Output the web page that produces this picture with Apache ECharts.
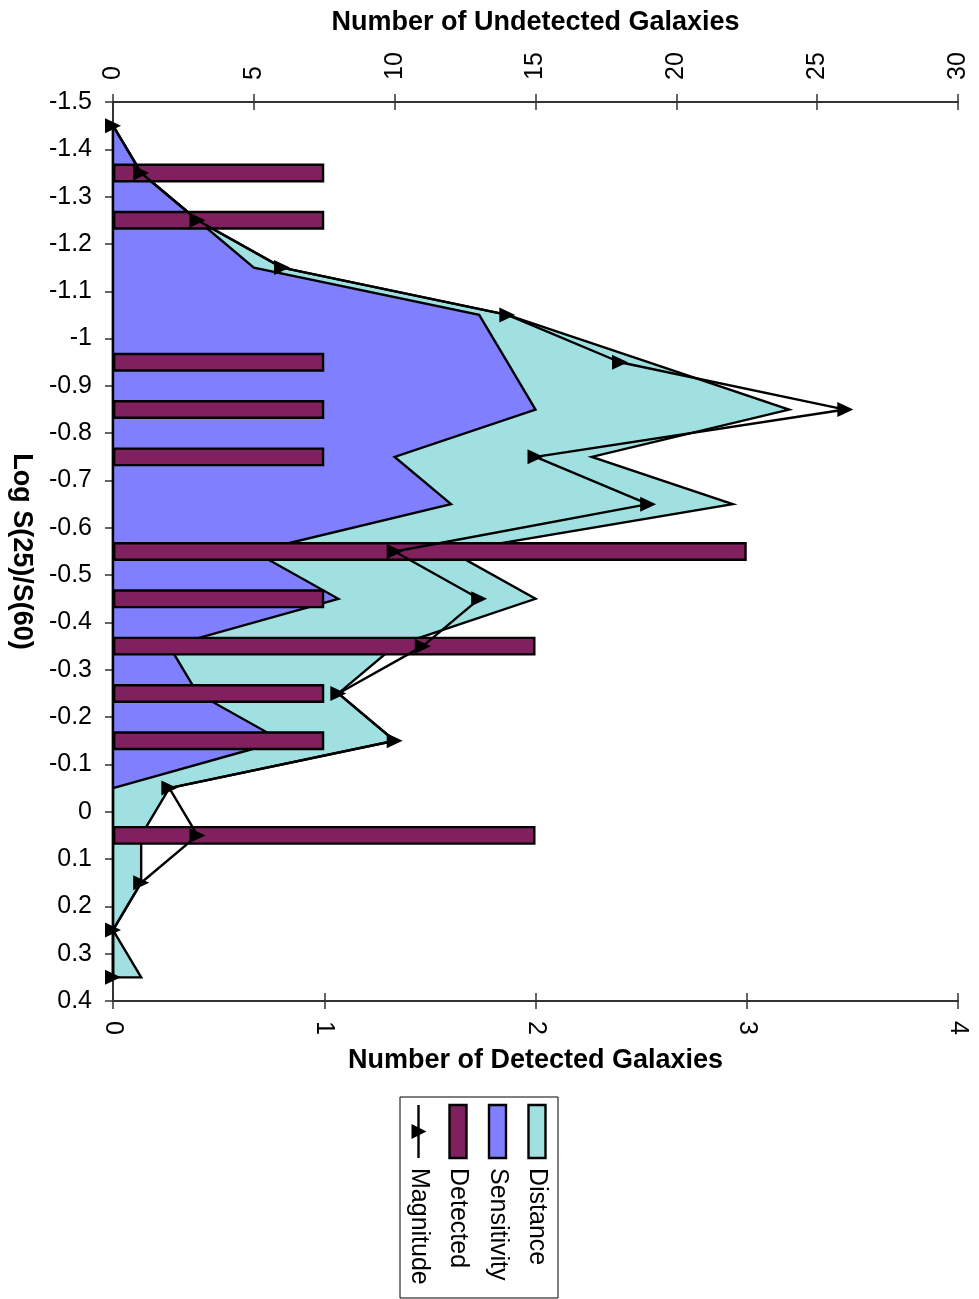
<!DOCTYPE html>
<html>
<head>
<meta charset="utf-8">
<script src="https://cdn.jsdelivr.net/npm/echarts@6/dist/echarts.min.js"></script>
<style>
html,body{margin:0;padding:0;background:#fff;}
#main{width:979px;height:1299px;}
</style>
</head>
<body>
<div id="main"></div>
<script>
// Bin centres of Log S(25)/S(60)
const categories = ['-1.45','-1.35','-1.25','-1.15','-1.05','-0.95','-0.85','-0.75','-0.65','-0.55','-0.45','-0.35','-0.25','-0.15','-0.05','0.05','0.15','0.25','0.35'];
// Undetected galaxies (top axis)
const distance    = [0,1,3,6,14,19,24,17,22,12,15,10,8,10,2,1,1,0,1];
const sensitivity = [0,1,3,5,13,14,15,10,12,5,8,2,3,6,0,0,0,0,0];
const magnitude   = [0,1,3,6,14,18,26,15,19,10,13,11,8,10,2,3,1,0,0];
// Detected galaxies (bottom axis)
const detected    = [0,1,1,0,0,1,1,1,0,3,1,2,1,1,0,2,0,0,0];
const legendNames = ['Distance','Sensitivity','Detected','Magnitude'];

const FONT = 'Liberation Sans, Arial, sans-serif';
const C_DIST = '#a0e0e0', C_SENS = '#8080ff', C_DET = '#80205f';
const SW = 2.4;

function areaRender(values, color){
  return function(params, api){
    if (params.dataIndex !== 0) return null;
    const pts = [api.coord([0, 0])];
    values.forEach((v,i)=>pts.push(api.coord([v, i])));
    pts.push(api.coord([0, values.length-1]));
    return {type:'polygon', shape:{points:pts}, style:{fill:color, stroke:'#000', lineWidth:SW, lineJoin:'miter'}};
  };
}

const axisLineStyle = {show:true, onZero:false, lineStyle:{color:'#333', width:2}};
const tickOut = {show:true, inside:false, length:8, lineStyle:{color:'#333', width:1.5}};
const tickIn  = {show:true, inside:true,  length:8, lineStyle:{color:'#333', width:1.5}};
const nameStyle = {fontFamily:FONT, fontSize:27, fontWeight:'bold', color:'#000'};
const labelStyle = {fontFamily:FONT, fontSize:25, color:'#000'};

const chart = echarts.init(document.getElementById('main'), null, {renderer:'canvas'});
const legendChildren = [{type:'rect', shape:{x:0,y:0,width:201,height:158}, style:{fill:'#fff', stroke:'#000', lineWidth:1}}];
const legendColors = [C_DIST, C_SENS, C_DET, null];
legendNames.forEach((n,i)=>{
  const ly = 21 + 39.5*i;
  if (legendColors[i]) {
    legendChildren.push({type:'rect', shape:{x:8, y:ly-8.5, width:53, height:17}, style:{fill:legendColors[i], stroke:'#000', lineWidth:SW}});
  } else {
    legendChildren.push({type:'line', shape:{x1:8, y1:ly, x2:61, y2:ly}, style:{stroke:'#000', lineWidth:SW}});
    legendChildren.push({type:'polygon', shape:{points:[[34.5,ly-8],[27,ly+7],[42,ly+7]]}, style:{fill:'#000'}});
  }
  legendChildren.push({type:'text', x:71, y:ly, style:{text:n, font:'25px '+FONT, fill:'#000', textAlign:'left', textVerticalAlign:'middle'}});
});

chart.setOption({
  animation:false,
  textStyle:{fontFamily:FONT},
  grid:{left:113, right:21, top:102, bottom:298, containLabel:false},
  xAxis:[
    {type:'value', position:'bottom', min:0, max:4, interval:1,
     axisLine:axisLineStyle, axisTick:tickOut, splitLine:{show:false},
     axisLabel:Object.assign({rotate:-90, margin:20}, labelStyle),
     name:'Number of Detected Galaxies', nameLocation:'middle', nameGap:46, nameTextStyle:nameStyle},
    {type:'value', position:'top', min:0, max:30, interval:5,
     axisLine:axisLineStyle, axisTick:tickOut, splitLine:{show:false},
     axisLabel:Object.assign({rotate:-90, margin:22}, labelStyle),
     name:'Number of Undetected Galaxies', nameLocation:'middle', nameGap:66, nameTextStyle:nameStyle},
    {type:'value', position:'bottom', min:0, max:4, interval:1,
     axisLine:{show:false, onZero:false}, axisTick:tickIn, axisLabel:{show:false}, splitLine:{show:false}},
    {type:'value', position:'top', min:0, max:30, interval:5,
     axisLine:{show:false, onZero:false}, axisTick:tickIn, axisLabel:{show:false}, splitLine:{show:false}}
  ],
  yAxis:[
    {type:'category', data:categories, inverse:true, show:false, boundaryGap:true},
    {type:'value', position:'left', min:-1.5, max:0.4, interval:0.1, inverse:true,
     axisLine:axisLineStyle, axisTick:tickOut, splitLine:{show:false},
     axisLabel:Object.assign({margin:21}, labelStyle),
     name:'Log S(25)/S(60)', nameLocation:'middle', nameRotate:-90, nameGap:78, nameTextStyle:nameStyle},
    {type:'value', position:'left', min:-1.5, max:0.4, interval:0.1, inverse:true,
     axisLine:{show:false, onZero:false}, axisTick:tickIn, axisLabel:{show:false}, splitLine:{show:false}}
  ],
  series:[
    {name:'Distance', type:'custom', xAxisIndex:1, yAxisIndex:0,
     data:distance.map((v,i)=>[v,i]), encode:{x:0,y:1}, renderItem:areaRender(distance, C_DIST)},
    {name:'Sensitivity', type:'custom', xAxisIndex:1, yAxisIndex:0,
     data:sensitivity.map((v,i)=>[v,i]), encode:{x:0,y:1}, renderItem:areaRender(sensitivity, C_SENS)},
    {name:'Detected', type:'bar', xAxisIndex:0, yAxisIndex:0, barWidth:'40%',
     data:detected.map(v => v === 0 ? {value:0, itemStyle:{borderWidth:0, opacity:0}} : v),
     itemStyle:{color:C_DET, borderColor:'#000', borderWidth:SW}},
    {name:'Magnitude', type:'line', xAxisIndex:1, yAxisIndex:0, data:magnitude,
     symbol:'triangle', symbolRotate:-90, symbolSize:[15,16], showAllSymbol:true,
     lineStyle:{color:'#000', width:SW}, itemStyle:{color:'#000'}}
  ],
  graphic:[{type:'group', x:558, y:1097, rotation:-Math.PI/2, children:legendChildren}]
});
</script>
</body>
</html>
